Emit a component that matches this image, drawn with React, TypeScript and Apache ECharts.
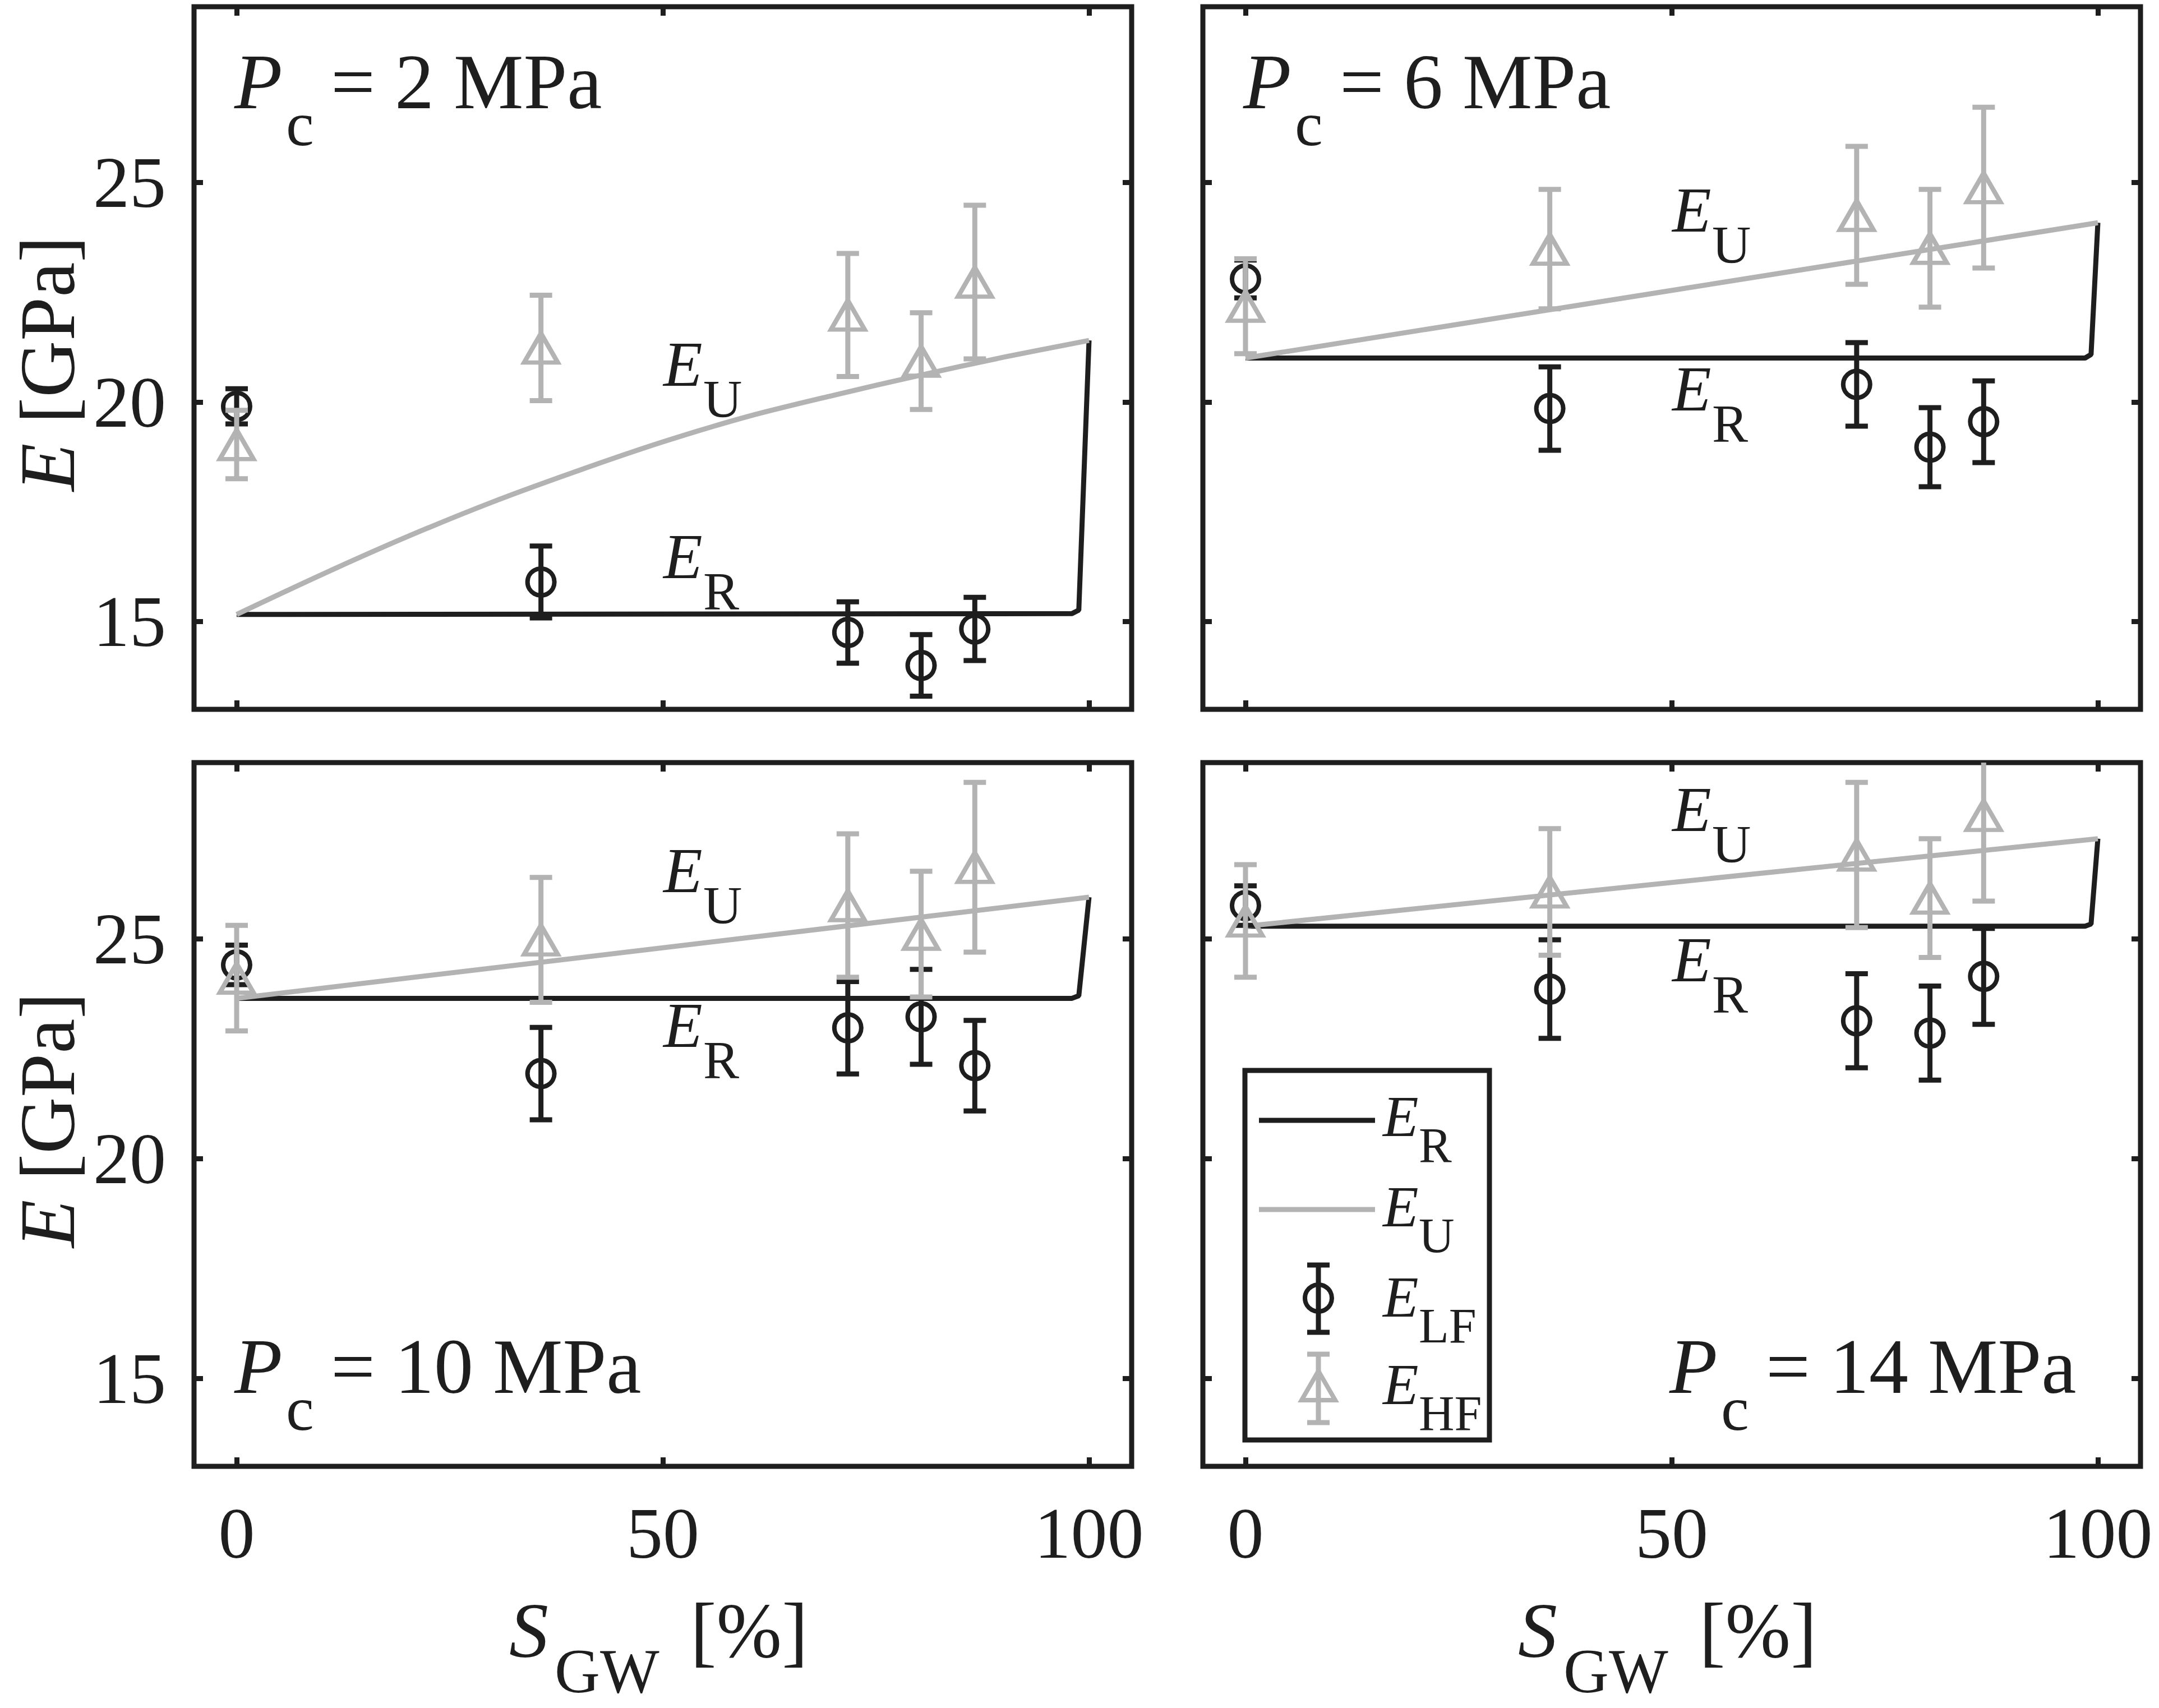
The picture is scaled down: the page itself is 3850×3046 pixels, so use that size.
import React, { useEffect, useRef } from "react";
import * as echarts from "echarts";

// ---------------- data ----------------
const S_GW = [0, 35.7, 71.7, 80.3, 86.6];
const PC_VALUES = ["2", "6", "10", "14"];
const X_TICKS = [0, 50, 100];
const Y_TICKS = [15, 20, 25];

// Pc = 2 MPa
const LF_P2 = [19.9, 15.9, 14.75, 14.0, 14.83];
const LF_P2_ERR = [0.4, 0.82, 0.7, 0.7, 0.72];
const HF_P2 = [19.03, 21.23, 21.98, 20.93, 22.73];
const HF_P2_ERR = [0.78, 1.2, 1.4, 1.1, 1.75];
const ER_X_P2 = [0, 98, 98.8, 100];
const ER_P2 = [15.16, 15.18, 15.26, 21.4];
const EU_X_P2 = [0, 10, 20, 30, 40, 50, 60, 70, 80, 90, 100];
const EU_P2 = [15.16, 16.07, 16.93, 17.72, 18.43, 19.09, 19.67, 20.15, 20.6, 21.02, 21.4];

// Pc = 6 MPa
const LF_P6 = [22.8, 19.85, 20.4, 18.97, 19.55];
const LF_P6_ERR = [0.43, 0.95, 0.95, 0.9, 0.93];
const HF_P6 = [22.18, 23.48, 24.25, 23.5, 24.88];
const HF_P6_ERR = [1.08, 1.36, 1.57, 1.34, 1.83];
const ER_X_P6 = [0, 98.5, 99.2, 100];
const ER_P6 = [21.0, 21.0, 21.08, 24.08];
const EU_X_P6 = [0, 100];
const EU_P6 = [21.0, 24.08];

// Pc = 10 MPa
const LF_P10 = [24.4, 21.93, 22.97, 23.22, 22.11];
const LF_P10_ERR = [0.45, 1.05, 1.05, 1.08, 1.03];
const HF_P10 = [24.1, 24.97, 25.75, 25.1, 26.62];
const HF_P10_ERR = [1.2, 1.42, 1.63, 1.43, 1.93];
const ER_X_P10 = [0, 98, 98.8, 100];
const ER_P10 = [23.64, 23.64, 23.7, 25.94];
const EU_X_P10 = [0, 100];
const EU_P10 = [23.64, 25.94];

// Pc = 14 MPa
const LF_P14 = [25.75, 23.85, 23.13, 22.85, 24.14];
const LF_P14_ERR = [0.45, 1.12, 1.07, 1.07, 1.09];
const HF_P14 = [25.4, 26.06, 26.9, 25.92, 27.8];
const HF_P14_ERR = [1.28, 1.44, 1.65, 1.35, 1.95];
const ER_X_P14 = [0, 98.5, 99.2, 100];
const ER_P14 = [25.28, 25.28, 25.33, 27.27];
const EU_X_P14 = [0, 100];
const EU_P14 = [25.28, 27.27];

// annotation anchor values (E baseline, in GPa) for E_U and E_R labels
const LABEL_EU_AT = [20.36, 23.88, 26.05, 27.44];
const LABEL_ER_AT = [15.99, 19.8, 22.53, 24.03];

// ---------------- layout / style ----------------
const INK = "#1e1e1e";
const GRAY = "#b3b3b3";
const FONT = '"Liberation Serif", "Times New Roman", serif';
const X_MIN = -5, X_MAX = 105, Y_MIN = 13, Y_MAX = 29;

const GRIDS = [
  { left: 346, top: 12, width: 1672, height: 1253 },
  { left: 2145, top: 12, width: 1672, height: 1253 },
  { left: 346, top: 1360, width: 1672, height: 1255 },
  { left: 2145, top: 1360, width: 1672, height: 1255 },
];

const PANELS = [
  { lf: LF_P2, lfe: LF_P2_ERR, hf: HF_P2, hfe: HF_P2_ERR, erx: ER_X_P2, er: ER_P2, eux: EU_X_P2, eu: EU_P2 },
  { lf: LF_P6, lfe: LF_P6_ERR, hf: HF_P6, hfe: HF_P6_ERR, erx: ER_X_P6, er: ER_P6, eux: EU_X_P6, eu: EU_P6 },
  { lf: LF_P10, lfe: LF_P10_ERR, hf: HF_P10, hfe: HF_P10_ERR, erx: ER_X_P10, er: ER_P10, eux: EU_X_P10, eu: EU_P10 },
  { lf: LF_P14, lfe: LF_P14_ERR, hf: HF_P14, hfe: HF_P14_ERR, erx: ER_X_P14, er: ER_P14, eux: EU_X_P14, eu: EU_P14 },
];

function px(i: number, x: number) {
  const g = GRIDS[i];
  return g.left + ((x - X_MIN) / (X_MAX - X_MIN)) * g.width;
}
function py(i: number, v: number) {
  const g = GRIDS[i];
  return g.top + ((Y_MAX - v) / (Y_MAX - Y_MIN)) * g.height;
}

function T(x: number, base: number, text: string, size: number, italic: boolean, color = INK) {
  return {
    type: "text",
    silent: true,
    x,
    y: base - 0.34 * size,
    z: 100,
    style: {
      text,
      fill: color,
      fontSize: size,
      fontFamily: FONT,
      fontStyle: italic ? "italic" : "normal",
      align: "left",
      textAlign: "left",
      verticalAlign: "middle",
      textVerticalAlign: "middle",
    },
  };
}

function errorBarSeries(i: number, ys: number[], errs: number[], color: string, z: number) {
  return {
    type: "custom",
    xAxisIndex: 2 * i,
    yAxisIndex: 2 * i,
    silent: true,
    clip: true,
    z,
    encode: { x: 0, y: [1, 2] },
    data: S_GW.map((x, k) => [x, ys[k] - errs[k], ys[k] + errs[k]]),
    renderItem: (_params: any, api: any) => {
      const x = api.value(0);
      const lo = api.coord([x, api.value(1)]);
      const hi = api.coord([x, api.value(2)]);
      const cw = 20;
      const st = { stroke: color, lineWidth: 9, lineCap: "butt" };
      return {
        type: "group",
        children: [
          { type: "line", shape: { x1: lo[0], y1: lo[1], x2: hi[0], y2: hi[1] }, style: st },
          { type: "line", shape: { x1: lo[0] - cw, y1: lo[1], x2: lo[0] + cw, y2: lo[1] }, style: st },
          { type: "line", shape: { x1: hi[0] - cw, y1: hi[1], x2: hi[0] + cw, y2: hi[1] }, style: st },
        ],
      };
    },
  };
}

function buildOption() {
  const grid = GRIDS.map((g) => ({
    ...g,
    show: true,
    borderWidth: 9,
    borderColor: INK,
    backgroundColor: "transparent",
    containLabel: false,
  }));

  const xAxis: any[] = [];
  const yAxis: any[] = [];
  GRIDS.forEach((_g, i) => {
    const tick = { show: true, inside: true, length: 16, customValues: X_TICKS, lineStyle: { color: INK, width: 9 } };
    const ytick = { show: true, inside: true, length: 16, customValues: Y_TICKS, lineStyle: { color: INK, width: 9 } };
    const line = { show: false, onZero: false };
    xAxis.push({
      type: "value", gridIndex: i, position: "bottom", min: X_MIN, max: X_MAX,
      axisLine: line, splitLine: { show: false }, axisTick: tick,
      axisLabel: {
        show: i >= 2, customValues: X_TICKS, margin: 54, color: INK,
        fontSize: 130, fontFamily: FONT,
      },
    });
    xAxis.push({
      type: "value", gridIndex: i, position: "top", min: X_MIN, max: X_MAX,
      axisLine: line, splitLine: { show: false }, axisTick: tick,
      axisLabel: { show: false },
    });
    yAxis.push({
      type: "value", gridIndex: i, position: "left", min: Y_MIN, max: Y_MAX,
      axisLine: line, splitLine: { show: false }, axisTick: ytick,
      axisLabel: {
        show: i % 2 === 0, customValues: Y_TICKS, margin: 50, color: INK,
        fontSize: 130, fontFamily: FONT,
      },
    });
    yAxis.push({
      type: "value", gridIndex: i, position: "right", min: Y_MIN, max: Y_MAX,
      axisLine: line, splitLine: { show: false }, axisTick: ytick,
      axisLabel: { show: false },
    });
  });

  const series: any[] = [];
  PANELS.forEach((p, i) => {
    series.push({
      type: "line", xAxisIndex: 2 * i, yAxisIndex: 2 * i, symbol: "none", silent: true, z: 2,
      lineStyle: { color: INK, width: 9 },
      data: p.erx.map((x, k) => [x, p.er[k]]),
    });
    series.push({
      type: "line", xAxisIndex: 2 * i, yAxisIndex: 2 * i, symbol: "none", silent: true, z: 3,
      smooth: 0.3,
      lineStyle: { color: GRAY, width: 9 },
      data: p.eux.map((x, k) => [x, p.eu[k]]),
    });
    series.push(errorBarSeries(i, p.lf, p.lfe, INK, 4));
    series.push({
      type: "scatter", xAxisIndex: 2 * i, yAxisIndex: 2 * i, silent: true, z: 5,
      symbol: "circle", symbolSize: 48,
      itemStyle: { color: "transparent", borderColor: INK, borderWidth: 8, opacity: 1 },
      data: S_GW.map((x, k) => [x, p.lf[k]]),
    });
    series.push(errorBarSeries(i, p.hf, p.hfe, GRAY, 6));
    series.push({
      type: "scatter", xAxisIndex: 2 * i, yAxisIndex: 2 * i, silent: true, z: 7,
      symbol: "triangle", symbolSize: [60, 52],
      itemStyle: { color: "transparent", borderColor: GRAY, borderWidth: 8, opacity: 1 },
      data: S_GW.map((x, k) => [x, p.hf[k]]),
    });
  });

  const graphic: any[] = [];
  GRIDS.forEach((g, i) => {
    // Pc labels
    const base = g.top + (i < 2 ? 181 : 1124);
    const pLeft = (i === 3 ? px(i, 50) : px(i, 0)) - 4;
    graphic.push(T(pLeft, base, "P", 140, true));
    graphic.push(T(pLeft + 92, base + 66, "c", 112, false));
    graphic.push(T(pLeft + 172, base, "= " + PC_VALUES[i] + " MPa", 140, false));
    // E_U and E_R annotations
    const ax = px(i, 50) + 1;
    const bu = py(i, LABEL_EU_AT[i]);
    const br = py(i, LABEL_ER_AT[i]);
    graphic.push(T(ax, bu, "E", 114, true));
    graphic.push(T(ax + 71, bu + 56, "U", 96, false));
    graphic.push(T(ax, br, "E", 114, true));
    graphic.push(T(ax + 71, br + 56, "R", 96, false));
  });

  // y axis names (rotated), kept fully inside the page
  [0, 2].forEach((i) => {
    const g = GRIDS[i];
    graphic.push({
      type: "text", silent: true, x: 84, y: g.top + g.height / 2 + 10, rotation: Math.PI / 2, z: 100,
      style: {
        text: "{i|E} [GPa]",
        fill: INK, fontSize: 140, fontFamily: FONT,
        align: "center", textAlign: "center", verticalAlign: "middle", textVerticalAlign: "middle",
        rich: { i: { fontStyle: "italic", fontSize: 140, fontFamily: FONT, fill: INK, color: INK } },
      },
    });
  });
  // x axis names
  [2, 3].forEach((i) => {
    const gl = GRIDS[i].left;
    graphic.push(T(gl + 562, 2955, "S", 140, true));
    graphic.push(T(gl + 643, 3018, "GW", 112, false));
    graphic.push(T(gl + 885, 2955, "[%]", 140, false));
  });

  // legend (inside Pc = 14 MPa panel)
  const LX = 2220, LY = 1909, LW = 436, LH = 659;
  const mx = 2351;
  graphic.push({
    type: "rect", silent: true, z: 90,
    shape: { x: LX, y: LY, width: LW, height: LH },
    style: { fill: "#ffffff", stroke: INK, lineWidth: 9 },
  });
  graphic.push({ type: "line", silent: true, z: 95, shape: { x1: 2245, y1: 1998, x2: 2452, y2: 1998 }, style: { stroke: INK, lineWidth: 9 } });
  graphic.push({ type: "line", silent: true, z: 95, shape: { x1: 2245, y1: 2157, x2: 2452, y2: 2157 }, style: { stroke: GRAY, lineWidth: 9 } });
  const barSt = (c: string) => ({ stroke: c, lineWidth: 9 });
  [[2256, 2376, INK], [2415, 2537, GRAY]].forEach(([a, b, c]: any) => {
    graphic.push({ type: "line", silent: true, z: 95, shape: { x1: mx, y1: a, x2: mx, y2: b }, style: barSt(c) });
    graphic.push({ type: "line", silent: true, z: 95, shape: { x1: mx - 20, y1: a, x2: mx + 20, y2: a }, style: barSt(c) });
    graphic.push({ type: "line", silent: true, z: 95, shape: { x1: mx - 20, y1: b, x2: mx + 20, y2: b }, style: barSt(c) });
  });
  graphic.push({ type: "circle", silent: true, z: 96, shape: { cx: mx, cy: 2315, r: 24 }, style: { fill: "transparent", stroke: INK, lineWidth: 8 } });
  graphic.push({
    type: "polygon", silent: true, z: 96,
    shape: { points: [[mx - 30, 2497], [mx + 30, 2497], [mx, 2445]] },
    style: { fill: "transparent", stroke: GRAY, lineWidth: 8 },
  });
  const legRows: [number, string][] = [[2026, "R"], [2187, "U"], [2348, "LF"], [2504, "HF"]];
  legRows.forEach(([b, s]) => {
    graphic.push(T(2466, b, "E", 104, true));
    graphic.push(T(2530, b + 46, s, 88, false));
  });

  return {
    animation: false,
    backgroundColor: "#ffffff",
    grid,
    xAxis,
    yAxis,
    series,
    graphic,
  };
}

export default function App() {
  const ref = useRef<HTMLDivElement>(null);
  useEffect(() => {
    if (!ref.current) return;
    const chart = echarts.init(ref.current, undefined, { renderer: "svg" });
    chart.setOption(buildOption() as any);
    return () => chart.dispose();
  }, []);
  return (
    <div
      ref={ref}
      style={{ position: "fixed", left: 0, top: 0, width: 3850, height: 3046, background: "#fff" }}
    />
  );
}
